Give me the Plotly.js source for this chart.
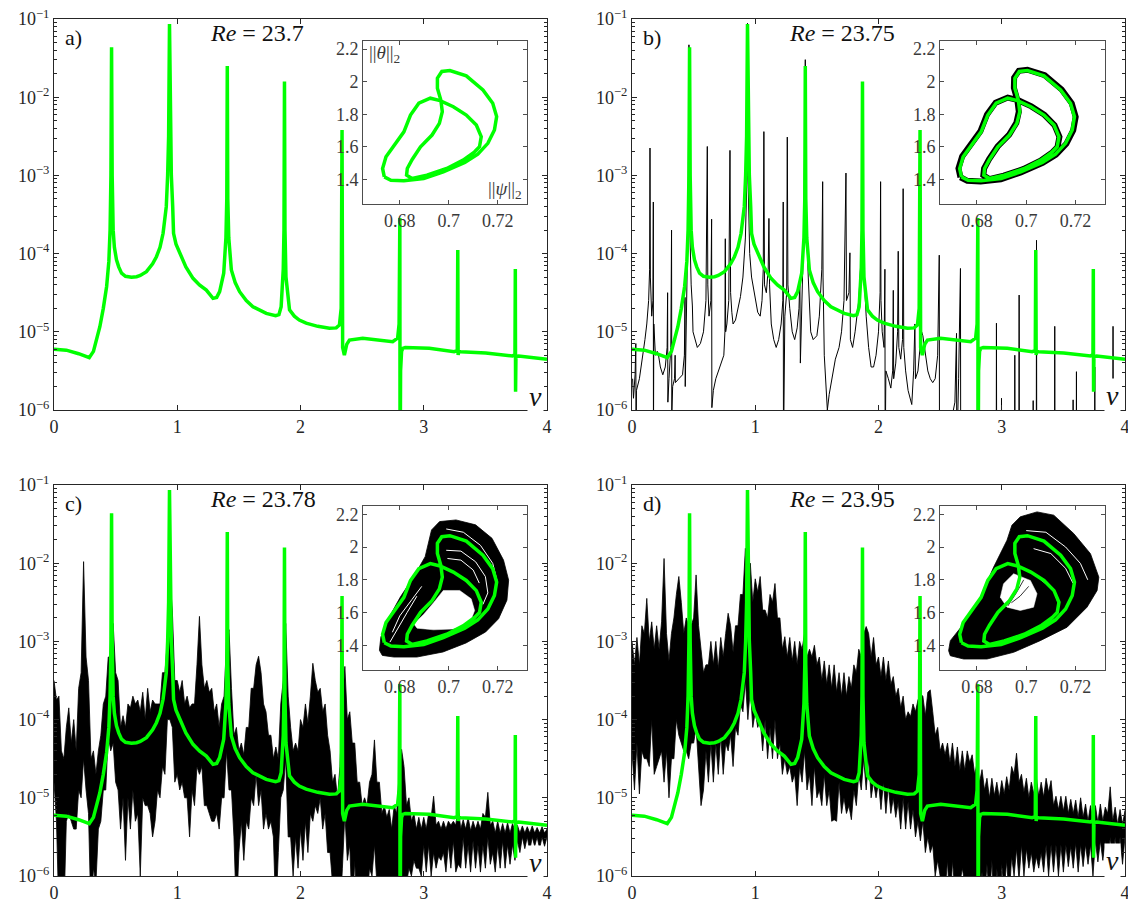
<!DOCTYPE html>
<html><head><meta charset="utf-8">
<script src="https://cdn.plot.ly/plotly-3.0.1.min.js"></script>
<style>html,body{margin:0;padding:0;background:#fff;}#chart{width:1128px;height:903px;}</style>
</head><body><div id="chart"></div>
<script>
// ---------- DATA (spectra stored as log10 of power) ----------
const panelLabels = ['a)', 'b)', 'c)', 'd)'];
const reValues = ['23.7', '23.75', '23.78', '23.95'];

// green: periodic orbit spectrum (same in all panels)
const greenNu = [0,0.10,0.20,0.286,0.32,0.35,0.372,0.40,0.427,0.445,0.455,0.462,0.467,0.472,0.48,0.49,0.507,0.525,0.548,0.58,0.629,0.67,0.70,0.75,0.80,0.831,0.86,0.885,0.911,0.922,0.930,0.937,0.944,0.952,0.963,0.970,0.99,1.02,1.07,1.128,1.18,1.236,1.27,1.29,1.32,1.344,1.377,1.395,1.402,1.406,1.410,1.418,1.439,1.47,1.506,1.56,1.614,1.722,1.798,1.825,1.843,1.860,1.866,1.870,1.874,1.882,1.911,1.95,1.99,2.046,2.14,2.235,2.29,2.316,2.330,2.337,2.342,2.356,2.375,2.397,2.505,2.748,2.788,2.800,2.806,2.808,2.812,2.82,2.83,2.85,3.045,3.247,3.272,3.276,3.279,3.284,3.30,3.503,3.72,3.740,3.743,3.745,3.748,3.77,4.0];
const greenLog = [-5.224,-5.235,-5.28,-5.331,-5.25,-5.07,-4.935,-4.70,-4.42,-4.1,-3.7,-3.0,-1.362,-3.0,-3.7,-3.92,-4.08,-4.17,-4.25,-4.29,-4.303,-4.295,-4.28,-4.231,-4.13,-4.04,-3.92,-3.74,-3.40,-3.0,-2.5,-1.064,-2.5,-3.0,-3.40,-3.74,-3.88,-4.0,-4.17,-4.316,-4.40,-4.466,-4.53,-4.572,-4.56,-4.487,-4.25,-3.8,-3.3,-1.601,-3.3,-3.8,-4.21,-4.37,-4.487,-4.60,-4.679,-4.764,-4.794,-4.78,-4.679,-4.2,-3.7,-1.80,-3.7,-4.3,-4.72,-4.80,-4.85,-4.89,-4.93,-4.955,-4.95,-4.913,-4.7,-2.419,-5.2,-5.297,-5.16,-5.105,-5.083,-5.126,-5.08,-4.9,-3.545,-7,-5.5,-5.25,-5.211,-5.20,-5.211,-5.254,-5.24,-3.954,-5.297,-5.25,-5.254,-5.27,-5.31,-5.29,-4.197,-5.766,-5.32,-5.31,-5.35];

// panel b black spectrum (quasi-periodic)
const bNu = [0.005,0.012,0.025,0.031,0.033,0.036,0.06,0.09,0.105,0.12,0.135,0.143,0.146,0.149,0.16,0.170,0.173,0.174,0.177,0.19,0.205,0.215,0.23,0.25,0.27,0.285,0.289,0.291,0.30,0.315,0.321,0.323,0.33,0.345,0.350,0.352,0.38,0.41,0.425,0.430,0.432,0.44,0.455,0.462,0.468,0.48,0.49,0.495,0.51,0.53,0.555,0.58,0.60,0.611,0.615,0.625,0.64,0.646,0.648,0.66,0.68,0.70,0.72,0.745,0.754,0.757,0.760,0.77,0.785,0.795,0.80,0.81,0.82,0.84,0.86,0.88,0.90,0.92,0.933,0.937,0.941,0.955,0.97,0.985,1.0,1.02,1.04,1.055,1.065,1.070,1.075,1.09,1.105,1.111,1.116,1.13,1.15,1.17,1.19,1.21,1.224,1.227,1.229,1.24,1.255,1.260,1.265,1.28,1.30,1.32,1.34,1.355,1.362,1.366,1.38,1.395,1.406,1.415,1.43,1.44,1.45,1.47,1.50,1.52,1.54,1.547,1.550,1.56,1.575,1.585,1.60,1.62,1.65,1.68,1.70,1.72,1.736,1.74,1.76,1.768,1.772,1.79,1.81,1.84,1.86,1.870,1.88,1.90,1.92,1.94,1.96,1.98,2.00,2.013,2.017,2.02,2.03,2.045,2.052,2.054,2.06,2.08,2.10,2.115,2.12,2.123,2.14,2.155,2.16,2.165,2.18,2.195,2.20,2.205,2.22,2.24,2.26,2.27,2.285,2.295,2.30,2.32,2.337,2.35,2.36,2.38,2.40,2.42,2.44,2.46,2.48,2.493,2.495,2.50,2.52,2.56,2.60,2.62,2.633,2.635,2.65,2.665,2.667,2.70,2.800,2.806,2.808,2.833,2.835,2.837,2.955,2.957,2.959,2.996,2.998,3.000,3.104,3.106,3.108,3.139,3.141,3.143,3.253,3.255,3.257,3.280,3.282,3.284,3.428,3.430,3.432,3.577,3.579,3.581,3.604,3.606,3.608,3.753,3.755,3.757,3.901,3.903,3.905,4.0];
const bLog = [-5.6,-5.85,-5.55,-5.15,-6.6,-5.75,-5.6,-5.3,-5.1,-4.9,-4.6,-4.2,-2.65,-4.3,-4.8,-4.6,-3.34,-6.6,-4.9,-5.3,-5.25,-5.3,-5.45,-5.55,-5.45,-5.2,-4.5,-5.9,-5.6,-5.2,-3.70,-6.05,-5.7,-5.6,-5.3,-5.65,-5.6,-5.55,-5.3,-4.56,-5.7,-4.9,-3.5,-1.33,-3.6,-4.4,-4.67,-5.0,-5.1,-5.2,-5.15,-5.0,-4.6,-2.63,-4.4,-4.8,-4.6,-3.56,-5.97,-5.75,-5.6,-5.5,-5.4,-5.3,-5.0,-3.81,-5.0,-4.9,-4.6,-2.68,-4.5,-4.75,-4.9,-4.85,-4.7,-4.55,-4.3,-3.8,-3.0,-1.055,-3.0,-4.0,-4.3,-4.45,-4.6,-4.75,-4.8,-4.6,-4.2,-2.44,-4.4,-4.5,-4.2,-3.55,-4.4,-4.9,-5.1,-5.2,-5.1,-4.9,-4.6,-3.34,-6.6,-4.8,-4.5,-2.51,-4.4,-4.7,-5.0,-5.1,-4.95,-4.7,-4.3,-5.4,-4.6,-3.6,-1.52,-3.6,-4.3,-4.7,-5.0,-5.1,-5.05,-4.8,-4.2,-3.08,-4.3,-5.3,-5.7,-6.0,-5.8,-5.6,-5.35,-5.2,-5.0,-4.6,-2.97,-4.6,-4.5,-3.99,-5.1,-5.2,-5.0,-4.6,-4.0,-2.5,-4.2,-4.8,-5.2,-5.45,-5.45,-5.3,-5.0,-4.5,-3.08,-4.6,-5.0,-5.2,-4.2,-6.6,-5.5,-5.6,-5.72,-5.5,-4.47,-5.6,-5.4,-5.0,-3.97,-5.2,-5.35,-5.1,-3.17,-5.2,-5.5,-5.75,-5.9,-5.93,-5.5,-4.9,-5.6,-5.5,-5.2,-5.0,-5.05,-5.3,-5.5,-5.6,-5.65,-5.6,-5.3,-4.02,-6.6,-6.1,-6.05,-6.07,-6.06,-5.9,-5.02,-6.6,-5.6,-4.19,-6.6,-7,-7,-3.6,-7,-7,-6.1,-7,-7,-4.89,-7,-7,-5.85,-7,-7,-5.30,-7,-7,-4.53,-7,-7,-5.88,-7,-7,-3.83,-7,-7,-4.93,-7,-7,-5.87,-7,-7,-5.51,-7,-7,-5.45,-7,-7,-4.93,-7,-7];

// panels c, d: chaotic broadband spectra, upper and lower envelopes on a common frequency grid
const bandNu = [0,0.02,0.04,0.06,0.08,0.10,0.12,0.14,0.16,0.18,0.20,0.22,0.24,0.26,0.28,0.30,0.32,0.34,0.36,0.38,0.40,0.42,0.44,0.46,0.48,0.50,0.52,0.54,0.56,0.58,0.60,0.62,0.64,0.66,0.68,0.70,0.72,0.74,0.76,0.78,0.80,0.82,0.84,0.86,0.88,0.90,0.92,0.94,0.96,0.98,1.00,1.02,1.04,1.06,1.08,1.10,1.12,1.14,1.16,1.18,1.20,1.22,1.24,1.26,1.28,1.30,1.32,1.34,1.36,1.38,1.40,1.42,1.44,1.46,1.48,1.50,1.52,1.54,1.56,1.58,1.60,1.62,1.64,1.66,1.68,1.70,1.72,1.74,1.76,1.78,1.80,1.82,1.84,1.86,1.88,1.90,1.92,1.94,1.96,1.98,2.00,2.02,2.04,2.06,2.08,2.10,2.12,2.14,2.16,2.18,2.20,2.22,2.24,2.26,2.28,2.30,2.32,2.34,2.36,2.38,2.40,2.42,2.44,2.46,2.48,2.50,2.52,2.54,2.56,2.58,2.60,2.62,2.64,2.66,2.68,2.70,2.72,2.74,2.76,2.78,2.80,2.82,2.84,2.86,2.88,2.90,2.92,2.94,2.96,2.98,3.00,3.02,3.04,3.06,3.08,3.10,3.12,3.14,3.16,3.18,3.20,3.22,3.24,3.26,3.28,3.30,3.32,3.34,3.36,3.38,3.40,3.42,3.44,3.46,3.48,3.50,3.52,3.54,3.56,3.58,3.60,3.62,3.64,3.66,3.68,3.70,3.72,3.74,3.76,3.78,3.80,3.82,3.84,3.86,3.88,3.90,3.92,3.94,3.96,3.98,4.00];
const cTop = [-3.5,-3.75,-3.7,-4.4,-4.5,-4.1,-3.85,-4.3,-4.0,-4.4,
 -3.6,-3.4,-1.98,-3.2,-3.5,-4.5,-4.4,-4.7,-4.4,-4.2,
 -3.8,-3.7,-3.2,-3.2,-2.77,-3.4,-3.5,-4.1,-3.95,-4.1,
 -3.8,-3.85,-3.7,-3.8,-3.75,-3.9,-3.65,-4.0,-3.6,-3.9,
 -3.75,-3.8,-3.8,-3.8,-3.4,-3.4,-3.0,-2.17,-2.6,-3.5,
 -3.5,-3.65,-3.5,-3.8,-3.7,-3.85,-3.8,-3.8,-3.3,-2.68,
 -3.3,-3.6,-3.5,-3.65,-3.6,-3.9,-3.8,-4.1,-3.8,-3.7,
 -3.0,-2.85,-3.6,-4.2,-4.1,-4.4,-4.3,-4.45,-4.1,-4.1,
 -3.6,-3.6,-3.3,-3.19,-3.4,-3.8,-3.9,-4.2,-4.2,-4.5,
 -4.35,-4.5,-3.8,-3.5,-2.77,-3.7,-4.1,-4.4,-4.3,-4.4,
 -4.0,-4.1,-3.8,-4.05,-3.7,-3.28,-3.5,-3.65,-3.6,-3.9,
 -3.8,-4.2,-4.4,-4.8,-4.7,-5.0,-4.6,-3.8,-3.32,-4.0,
 -3.9,-4.3,-4.3,-4.8,-4.8,-5.1,-5.0,-5.1,-4.8,-4.7,
 -4.26,-4.8,-4.8,-5.2,-5.1,-5.25,-5.15,-5.4,-5.1,-5.2,
 -4.7,-4.38,-4.6,-5.1,-5.0,-5.3,-5.2,-5.4,-5.25,-5.4,
 -5.25,-5.4,-5.2,-5.25,-4.98,-5.35,-5.3,-5.4,-5.3,-5.4,
 -5.3,-5.35,-5.3,-5.35,-5.1,-5.4,-5.28,-5.4,-5.25,-5.42,
 -5.3,-5.4,-5.3,-5.4,-5.2,-5.25,-4.93,-5.35,-5.3,-5.45,
 -5.3,-5.45,-5.33,-5.45,-5.32,-5.45,-5.33,-5.42,-5.35,-5.45,
 -5.36,-5.45,-5.37,-5.45,-5.36,-5.45,-5.38,-5.45,-5.37,-5.45,
 -5.4];
const cBot = [-4.8,-5.3,-6.5,-6.5,-6.5,-5.3,-5.2,-5.3,-5.4,-5.4,
 -4.9,-5.0,-4.5,-4.9,-5.2,-6.5,-5.9,-6.1,-5.4,-5.3,
 -4.9,-4.9,-4.2,-4.4,-4.3,-4.8,-4.9,-5.4,-5.0,-5.8,
 -5.0,-5.4,-4.9,-5.3,-5.2,-6.0,-5.0,-5.1,-5.1,-5.2,
 -5.5,-5.3,-4.9,-5.0,-4.6,-4.7,-4.0,-4.0,-4.1,-4.8,
 -4.7,-4.9,-4.8,-5.0,-5.0,-5.5,-4.9,-5.1,-4.6,-4.7,
 -4.6,-5.1,-5.1,-5.2,-5.3,-5.3,-5.2,-5.4,-5.0,-5.0,
 -4.4,-4.9,-4.9,-5.5,-6.5,-5.7,-5.3,-5.8,-5.3,-5.4,
 -5.0,-5.1,-4.7,-5.1,-4.9,-5.4,-5.2,-5.4,-5.3,-5.5,
 -6.5,-5.7,-5.0,-4.9,-4.5,-5.5,-5.5,-6.0,-5.5,-5.9,
 -5.4,-5.8,-5.3,-5.7,-5.2,-5.3,-5.1,-5.2,-5.0,-5.4,
 -5.2,-5.7,-5.7,-6.1,-6.5,-6.2,-6.5,-5.9,-5.2,-5.8,
 -5.6,-6.5,-5.8,-6.5,-6.0,-6.2,-6.5,-6.3,-5.9,-6.0,
 -5.6,-6.1,-6.5,-6.2,-6.0,-6.2,-6.5,-6.2,-6.0,-6.2,
 -6.5,-6.5,-6.0,-6.1,-5.9,-6.0,-5.8,-5.9,-5.9,-6.0,
 -5.6,-5.95,-5.6,-6.0,-5.7,-5.9,-5.75,-5.8,-5.7,-5.95,
 -5.6,-5.9,-5.55,-5.95,-5.85,-5.9,-5.5,-5.9,-5.6,-5.95,
 -5.55,-5.9,-5.6,-5.95,-5.6,-5.9,-5.5,-5.85,-5.7,-5.95,
 -5.6,-5.9,-5.55,-5.9,-5.6,-5.85,-5.6,-5.8,-5.55,-5.7,
 -5.5,-5.65,-5.5,-5.68,-5.5,-5.62,-5.5,-5.65,-5.5,-5.62,
 -5.5];
const dTop = [-3.0,-3.3,-2.95,-3.3,-2.8,-2.9,-2.45,-3.0,-2.75,-3.1,
 -2.8,-3.1,-2.75,-1.94,-2.9,-3.25,-2.9,-2.7,-2.4,-2.17,
 -2.5,-2.9,-2.7,-2.8,-2.8,-2.7,-2.15,-2.8,-3.1,-3.4,
 -3.3,-3.3,-3.0,-3.3,-3.0,-3.35,-2.95,-3.2,-2.9,-2.64,
 -2.8,-3.14,-2.8,-2.8,-2.4,-2.4,-1.81,-2.3,-2.0,-2.5,
 -2.2,-2.37,-2.17,-2.6,-2.6,-2.7,-2.4,-2.5,-2.26,-2.7,
 -2.7,-3.1,-2.94,-3.2,-2.95,-3.25,-3.0,-3.3,-3.0,-3.1,
 -2.9,-3.2,-3.1,-3.2,-3.05,-3.3,-3.2,-3.5,-3.25,-3.55,
 -3.3,-3.6,-3.3,-3.65,-3.4,-3.7,-3.4,-3.7,-3.45,-3.6,
 -3.3,-3.4,-3.1,-3.2,-2.9,-2.81,-2.9,-3.2,-2.95,-3.3,
 -3.2,-3.45,-3.2,-3.5,-3.25,-3.55,-3.45,-3.7,-3.6,-3.85,
 -3.7,-4.0,-3.9,-3.96,-3.8,-3.9,-3.75,-3.67,-3.7,-3.95,
 -3.65,-3.62,-3.9,-4.2,-4.1,-4.4,-4.3,-4.45,-4.3,-4.55,
 -4.3,-4.6,-4.35,-4.65,-4.4,-4.65,-4.4,-4.55,-4.45,-4.7,
 -4.56,-4.8,-4.64,-4.9,-4.75,-5.0,-4.75,-4.97,-4.8,-5.0,
 -4.78,-4.95,-4.73,-4.9,-4.6,-4.7,-4.43,-4.8,-4.7,-4.93,
 -4.75,-5.0,-4.8,-4.95,-4.73,-4.98,-4.8,-4.99,-4.75,-4.93,
 -4.78,-5.1,-4.98,-5.15,-4.98,-5.17,-4.98,-5.2,-5.02,-5.2,
 -5.03,-5.25,-5.0,-5.25,-5.08,-5.3,-5.1,-5.31,-5.1,-5.32,
 -5.08,-5.3,-5.12,-5.2,-4.86,-5.3,-5.12,-5.34,-5.15,-5.34,
 -5.16];
const dBot = [-4.4,-4.9,-4.3,-4.95,-4.4,-4.5,-4.5,-4.6,-4.0,-4.7,
 -4.6,-4.5,-4.4,-4.8,-4.4,-5.0,-4.5,-4.5,-4.0,-4.2,
 -4.3,-4.4,-4.4,-4.5,-4.3,-4.3,-4.1,-4.6,-5.1,-4.9,
 -4.4,-4.8,-4.3,-4.8,-4.3,-4.7,-4.2,-4.7,-4.3,-4.4,
 -4.2,-4.6,-4.1,-4.2,-3.8,-3.9,-3.5,-4.0,-3.6,-4.1,
 -3.9,-4.1,-4.0,-4.4,-4.0,-4.5,-4.1,-4.5,-4.0,-4.5,
 -4.3,-4.7,-4.5,-4.7,-4.6,-4.8,-4.7,-5.1,-4.6,-4.8,
 -4.4,-4.9,-4.7,-5.1,-4.6,-5.0,-4.9,-5.1,-4.7,-5.1,
 -4.9,-5.3,-5.28,-5.3,-4.8,-5.2,-5.0,-5.2,-5.1,-5.28,
 -4.9,-5.1,-4.7,-4.9,-4.5,-4.9,-4.5,-5.0,-4.8,-5.0,
 -4.8,-5.15,-4.8,-5.2,-4.85,-5.2,-5.0,-5.25,-5.05,-5.4,
 -5.0,-5.4,-5.05,-5.4,-5.15,-5.5,-5.3,-5.55,-5.3,-5.7,
 -5.5,-5.7,-5.6,-6.0,-5.8,-6.0,-6.5,-6.2,-5.8,-6.5,
 -5.8,-6.2,-6.5,-6.1,-5.9,-6.1,-6.0,-6.2,-6.0,-6.5,
 -6.5,-6.2,-5.95,-6.3,-5.85,-6.3,-5.8,-6.5,-5.9,-6.3,
 -5.85,-6.2,-5.8,-6.3,-5.75,-6.0,-5.65,-6.05,-5.6,-6.0,
 -5.65,-5.9,-5.7,-5.95,-5.75,-5.9,-5.7,-5.95,-5.6,-6.0,
 -5.6,-5.95,-5.6,-6.0,-5.6,-5.95,-5.6,-5.88,-5.62,-5.9,
 -5.58,-5.95,-5.6,-5.88,-5.6,-5.85,-5.6,-6.0,-5.55,-5.82,
 -5.55,-5.8,-5.55,-5.82,-5.5,-5.85,-5.5,-5.82,-5.5,-5.85,
 -5.5];

// inset: phase portraits (||psi||_2, ||theta||_2)
const greenPsi = [0.6737,0.6730,0.6744,0.6784,0.6817,0.6844,0.6878,0.6925,0.6965,0.7019,0.7072,0.7113,0.7133,0.7126,0.7106,0.7059,0.6992,0.6911,0.6851,0.6828,0.6831,0.6851,0.6885,0.6932,0.6962,0.6974,0.6968,0.6954,0.6954,0.6972,0.7005,0.7072,0.7140,0.7180,0.7196,0.7187,0.7160,0.7119,0.7066,0.6978,0.6898,0.6817,0.6764,0.6737];
const greenTheta = [1.4165,1.468,1.540,1.622,1.693,1.796,1.868,1.899,1.884,1.847,1.796,1.734,1.663,1.601,1.570,1.519,1.468,1.427,1.406,1.427,1.468,1.523,1.601,1.673,1.745,1.816,1.888,1.960,2.022,2.063,2.069,2.036,1.950,1.868,1.786,1.704,1.622,1.556,1.505,1.447,1.406,1.392,1.396,1.4165];
const bInsPsi = [0.6733,0.6725,0.6740,0.6781,0.6814,0.6841,0.6876,0.6925,0.6967,0.7021,0.7074,0.7115,0.7135,0.7127,0.7106,0.7058,0.6990,0.6909,0.6850,0.6826,0.6829,0.6849,0.6884,0.6931,0.6960,0.6970,0.6964,0.6950,0.6951,0.6970,0.7005,0.7075,0.7144,0.7185,0.7201,0.7191,0.7163,0.7121,0.7067,0.6978,0.6897,0.6815,0.6761,0.6733];
const bInsTheta = [1.414,1.468,1.542,1.624,1.696,1.799,1.872,1.903,1.887,1.849,1.797,1.734,1.662,1.599,1.567,1.516,1.465,1.424,1.403,1.426,1.468,1.524,1.603,1.676,1.748,1.816,1.888,1.962,2.025,2.067,2.074,2.040,1.952,1.868,1.785,1.702,1.619,1.553,1.502,1.444,1.402,1.388,1.392,1.414];
const cOutPsi = [0.6717,0.6723,0.6750,0.6803,0.6857,0.6904,0.6930,0.6963,0.7030,0.7110,0.7177,0.7224,0.7245,0.7238,0.7204,0.7151,0.7071,0.6977,0.6870,0.6776,0.6729,0.6717];
const cOutTheta = [1.370,1.451,1.553,1.696,1.818,1.941,2.104,2.155,2.165,2.135,2.053,1.920,1.798,1.676,1.563,1.482,1.415,1.360,1.329,1.329,1.339,1.370];
const cHolePsi = [0.6978,0.7045,0.7092,0.7106,0.7085,0.7018,0.6938,0.6871,0.6858,0.6898,0.6938,0.6978];
const cHoleTheta = [1.735,1.735,1.684,1.613,1.531,1.500,1.495,1.505,1.530,1.590,1.660,1.735];
const cStreakPsi = [0.6990,0.7050,0.7110,0.7150,0.7160,0.7140,null,0.6995,0.7050,0.7100,0.7125,null,0.6770,0.6800,0.6850,0.6890,null,0.6990,0.7060,0.7130,0.7180,0.7200,null,0.6760,0.6790,0.6830,0.6870];
const cStreakTheta = [1.980,1.975,1.910,1.820,1.720,1.650,null,1.930,1.920,1.860,1.780,null,1.480,1.580,1.680,1.760,null,2.110,2.090,2.010,1.900,1.780,null,1.420,1.500,1.600,1.700];
const dOutPsi = [0.6685,0.6692,0.6746,0.6814,0.6868,0.6922,0.6942,0.6976,0.7044,0.7112,0.7193,0.7261,0.7295,0.7288,0.7247,0.7166,0.7057,0.6949,0.6841,0.6746,0.6692,0.6685];
const dOutTheta = [1.368,1.429,1.531,1.694,1.878,2.041,2.133,2.184,2.214,2.194,2.082,1.959,1.816,1.735,1.633,1.511,1.429,1.358,1.317,1.317,1.337,1.368];
const dHolePsi = [0.6908,0.6949,0.7017,0.7044,0.7030,0.6976,0.6922,0.6895,0.6908];
const dHoleTheta = [1.776,1.837,1.796,1.715,1.633,1.613,1.633,1.694,1.776];
const dStreakPsi = [0.7000,0.7080,0.7160,0.7220,0.7250,null,0.7030,0.7100,0.7160,0.7190,null,0.7060,0.7110,0.7130];
const dStreakTheta = [2.100,2.090,2.000,1.900,1.800,null,1.990,1.960,1.870,1.780,null,1.800,1.740,1.660];
const dInnerPsi = [0.6925,0.6960,0.6990,null,0.6940,0.6975,0.7010];
const dInnerTheta = [1.640,1.720,1.800,null,1.660,1.700,1.760];

// ---------- STYLE / LAYOUT ----------
const F = 'Liberation Serif, DejaVu Serif';
const GREEN = '#00ff00';
const AX = '#262626';
const W = 1128, H = 903;
const pow10 = a => a.map(v => Math.pow(10, v));
const xd = (a, b) => [a / W, b / W];
const yd = (a, b) => [1 - b / H, 1 - a / H];

const mainBoxes = [
  {x: [54, 547], y: [19, 410]},
  {x: [632, 1125], y: [19, 410]},
  {x: [54, 547], y: [485, 876]},
  {x: [632, 1125], y: [485, 876]}
];
const insetBoxes = [
  {x: [363, 527], y: [41, 204]},
  {x: [940, 1105], y: [41, 204]},
  {x: [363, 527], y: [506, 670]},
  {x: [940, 1105], y: [506, 670]}
];

const minorVals = [];
for (let d = -6; d < -1; d++) for (let m = 2; m <= 9; m++) minorVals.push(m * Math.pow(10, d));

const layout = {
  width: W, height: H, margin: {l: 0, r: 0, t: 0, b: 0},
  paper_bgcolor: '#fff', plot_bgcolor: 'rgba(0,0,0,0)', showlegend: false,
  font: {family: F, color: AX}, annotations: []
};

mainBoxes.forEach((b, i) => {
  const n = i + 1;
  layout['xaxis' + n] = {
    domain: xd(b.x[0], b.x[1]), anchor: 'y' + n, range: [0, 4],
    tickmode: 'array', tickvals: [0, 1, 2, 3, 4], ticktext: ['0', '1', '2', '3', '4'],
    ticks: 'inside', ticklen: 5, tickcolor: AX, showline: true, linecolor: AX, linewidth: 1,
    mirror: 'ticks', showgrid: false, zeroline: false, ticklabeloverflow: 'allow',
    tickfont: {family: F, size: 18, color: AX}
  };
  layout['yaxis' + n] = {
    domain: yd(b.y[0], b.y[1]), anchor: 'x' + n, type: 'log', range: [-6, -1],
    tickmode: 'array', tickvals: [1e-6, 1e-5, 1e-4, 1e-3, 1e-2, 1e-1],
    ticktext: ['10<sup>−6</sup>', '10<sup>−5</sup>', '10<sup>−4</sup>', '10<sup>−3</sup>', '10<sup>−2</sup>', '10<sup>−1</sup>'],
    ticks: 'inside', ticklen: 5, tickcolor: AX, showline: true, linecolor: AX, linewidth: 1,
    mirror: 'ticks', showgrid: false, zeroline: false, ticklabeloverflow: 'allow',
    minor: {tickmode: 'array', tickvals: minorVals, ticks: 'inside', ticklen: 3, tickcolor: AX, showgrid: false},
    tickfont: {family: F, size: 18, color: AX}
  };
});
insetBoxes.forEach((b, i) => {
  const n = i + 5;
  layout['xaxis' + n] = {
    domain: xd(b.x[0], b.x[1]), anchor: 'y' + n, range: [0.665, 0.732],
    tickmode: 'array', tickvals: [0.68, 0.7, 0.72], ticktext: ['0.68', '0.7', '0.72'],
    ticks: 'inside', ticklen: 4, tickcolor: '#4d4d4d', showline: true, linecolor: '#4d4d4d', linewidth: 1,
    mirror: 'ticks', showgrid: false, zeroline: false,
    tickfont: {family: F, size: 18, color: '#3a3a3a'}
  };
  layout['yaxis' + n] = {
    domain: yd(b.y[0], b.y[1]), anchor: 'x' + n, range: [1.25, 2.25],
    tickmode: 'array', tickvals: [1.4, 1.6, 1.8, 2, 2.2], ticktext: ['1.4', '1.6', '1.8', '2', '2.2'],
    ticks: 'inside', ticklen: 4, tickcolor: '#4d4d4d', showline: true, linecolor: '#4d4d4d', linewidth: 1,
    mirror: 'ticks', showgrid: false, zeroline: false,
    tickfont: {family: F, size: 18, color: '#3a3a3a'}
  };
});

// annotations
const labelPos = [[63, 37], [641, 37], [63, 503], [641, 503]];
const rePos = [[208, 33], [787, 33], [208, 499], [787, 499]];
const nuPos = [[535, 397], [1112, 395], [535, 862], [1112, 860]];
for (let i = 0; i < 4; i++) {
  layout.annotations.push({xref: 'paper', yref: 'paper', x: labelPos[i][0] / W, y: 1 - labelPos[i][1] / H,
    xanchor: 'left', yanchor: 'middle', showarrow: false, text: panelLabels[i], font: {family: F, size: 22, color: '#111'}});
  layout.annotations.push({xref: 'paper', yref: 'paper', x: rePos[i][0] / W, y: 1 - rePos[i][1] / H,
    xanchor: 'left', yanchor: 'middle', showarrow: false, text: '<i>Re</i> = ' + reValues[i], font: {family: F, size: 24, color: '#111'}});
  layout.annotations.push({xref: 'paper', yref: 'paper', x: nuPos[i][0] / W, y: 1 - nuPos[i][1] / H,
    xanchor: 'center', yanchor: 'middle', showarrow: false, text: '<i>ν</i>', bgcolor: '#fff', borderpad: 1,
    font: {family: F, size: 28, color: '#111'}});
}
layout.annotations.push({xref: 'paper', yref: 'paper', x: 367 / W, y: 1 - 54 / H, xanchor: 'left', yanchor: 'middle',
  showarrow: false, text: '||<i>θ</i>||<sub>2</sub>', font: {family: F, size: 19, color: '#3a3a3a'}});
layout.annotations.push({xref: 'paper', yref: 'paper', x: 524 / W, y: 1 - 190 / H, xanchor: 'right', yanchor: 'middle',
  showarrow: false, text: '||<i>ψ</i>||<sub>2</sub>', font: {family: F, size: 19, color: '#3a3a3a'}});

// ---------- TRACES ----------
const traces = [];
const line = (x, y, xa, ya, color, width, extra) => Object.assign({
  type: 'scatter', mode: 'lines', x: x, y: y, xaxis: xa, yaxis: ya,
  line: {color: color, width: width}, hoverinfo: 'skip', showlegend: false}, extra || {});

// black spectra
traces.push(line(bNu, pow10(bLog), 'x2', 'y2', '#000', 1));
traces.push(line(bandNu, pow10(cBot), 'x3', 'y3', '#000', 0.8));
traces.push(line(bandNu, pow10(cTop), 'x3', 'y3', '#000', 0.8, {fill: 'tonexty', fillcolor: '#000'}));
traces.push(line(bandNu, pow10(dBot), 'x4', 'y4', '#000', 0.8));
traces.push(line(bandNu, pow10(dTop), 'x4', 'y4', '#000', 0.8, {fill: 'tonexty', fillcolor: '#000'}));
// green spectra
for (let i = 1; i <= 4; i++) {
  const ax = i === 1 ? '' : String(i);
  traces.push(line(greenNu, pow10(greenLog), 'x' + ax, 'y' + ax, GREEN, 3.5));
}
// insets
traces.push(line(bInsPsi, bInsTheta, 'x6', 'y6', '#000', 6));
traces.push(line(cOutPsi, cOutTheta, 'x7', 'y7', '#000', 0.8, {fill: 'toself', fillcolor: '#000'}));
traces.push(line(cHolePsi, cHoleTheta, 'x7', 'y7', '#fff', 0.5, {fill: 'toself', fillcolor: '#fff'}));
traces.push(line(cStreakPsi, cStreakTheta, 'x7', 'y7', '#fff', 1));
traces.push(line(dOutPsi, dOutTheta, 'x8', 'y8', '#000', 0.8, {fill: 'toself', fillcolor: '#000'}));
traces.push(line(dHolePsi, dHoleTheta, 'x8', 'y8', '#fff', 0.5, {fill: 'toself', fillcolor: '#fff'}));
traces.push(line(dStreakPsi, dStreakTheta, 'x8', 'y8', '#fff', 1));
traces.push(line(dInnerPsi, dInnerTheta, 'x8', 'y8', '#000', 0.8));
for (let i = 5; i <= 8; i++) {
  traces.push(line(greenPsi, greenTheta, 'x' + i, 'y' + i, GREEN, 3.5));
}

Plotly.newPlot('chart', traces, layout, {staticPlot: true});
</script></body></html>
